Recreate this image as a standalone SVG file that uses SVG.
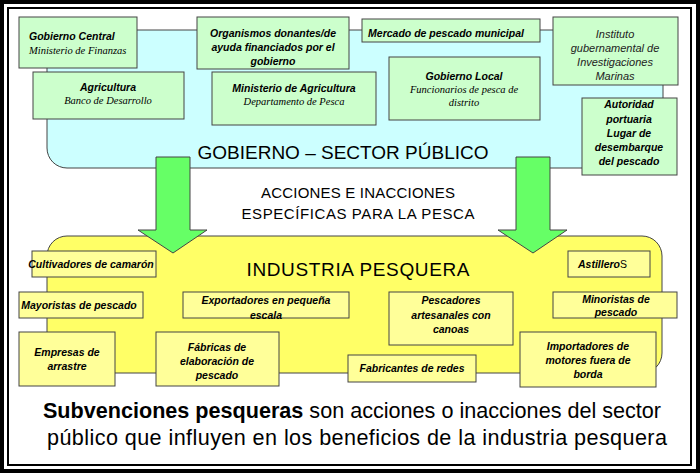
<svg xmlns="http://www.w3.org/2000/svg" width="700" height="474" viewBox="0 0 700 474">
<style>
.g{fill:#ccffcc;stroke:#444;stroke-width:1}
.y{fill:#ffff99;stroke:#444;stroke-width:1}
.t{font-family:"Liberation Sans",Arial,sans-serif;font-size:10.5px;font-weight:bold;font-style:italic;fill:#000;text-anchor:middle}
.s{font-family:"Liberation Serif","Times New Roman",serif;font-size:10.5px;font-style:italic;fill:#000;text-anchor:middle}
.n{font-family:"Liberation Sans",Arial,sans-serif;font-size:11px;font-style:italic;fill:#222;text-anchor:middle}
.h{font-family:"Liberation Sans",Arial,sans-serif;fill:#000;text-anchor:middle}
.arr{fill:#66ff66;stroke:#444;stroke-width:1}
</style>
<rect x="0" y="0" width="700" height="474" fill="#fff"/>
<rect x="2" y="2" width="696" height="469" fill="none" stroke="#000" stroke-width="4"/>
<rect x="8" y="8" width="683" height="457" fill="none" stroke="#000" stroke-width="2"/>

<g id="gobierno-sector">
<rect x="47" y="30" width="616" height="138" rx="20" fill="#ccffff" stroke="#444"/>
<text class="h" x="343" y="159" font-size="19" textLength="291">GOBIERNO – SECTOR PÚBLICO</text>
</g>
<g id="industria-pesquera">
<rect x="47" y="236" width="615" height="137" rx="20" fill="#ffff66" stroke="#444"/>
<text class="h" x="358" y="276" font-size="19" textLength="223">INDUSTRIA PESQUERA</text>
</g>

<g id="connectors">
<path class="arr" d="M156,157 H190 V230 H207 L173,253 L138,230 H156 Z"/>
<path class="arr" d="M516,157 H550 V230 H567 L533,253 L498,230 H516 Z"/>
</g>

<g id="acciones">
<text class="h" x="358" y="198" font-size="15" textLength="194">ACCIONES E INACCIONES</text>
<text class="h" x="358" y="219" font-size="15" textLength="233">ESPECÍFICAS PARA LA PESCA</text>
</g>

<g id="gobierno-central">
<rect class="g" x="19" y="17" width="118" height="51"/>
<text class="t" x="29" y="40" style="text-anchor:start">Gobierno Central</text>
<text class="s" x="29" y="54" style="text-anchor:start">Ministerio de Finanzas</text>
</g>
<g id="organismos">
<rect class="g" x="197" y="17" width="152" height="52"/>
<text class="t" x="273" y="37">Organismos donantes/de</text>
<text class="t" x="273" y="51">ayuda financiados por el</text>
<text class="t" x="273" y="65">gobierno</text>
</g>
<g id="mercado">
<rect class="g" x="362" y="19" width="178" height="23"/>
<text class="t" x="446" y="37">Mercado de pescado municipal</text>
</g>
<g id="instituto">
<rect class="g" x="553" y="17" width="125" height="68"/>
<text class="n" x="615" y="38">Instituto</text>
<text class="n" x="615" y="52">gubernamental de</text>
<text class="n" x="615" y="66">Investigaciones</text>
<text class="n" x="615" y="80">Marinas</text>
</g>
<g id="agricultura">
<rect class="g" x="33" y="72" width="151" height="47"/>
<text class="t" x="108" y="91">Agricultura</text>
<text class="s" x="108" y="104">Banco de Desarrollo</text>
</g>
<g id="ministerio-agricultura">
<rect class="g" x="212" y="72" width="164" height="53"/>
<text class="t" x="294" y="92">Ministerio de Agricultura</text>
<text class="s" x="294" y="105">Departamento de Pesca</text>
</g>
<g id="gobierno-local">
<rect class="g" x="389" y="57" width="151" height="63"/>
<text class="t" x="464" y="80">Gobierno Local</text>
<text class="s" x="464" y="93">Funcionarios de pesca de</text>
<text class="s" x="464" y="106">distrito</text>
</g>
<g id="autoridad">
<rect class="g" x="582" y="98" width="95" height="77"/>
<text class="t" x="629" y="108">Autoridad</text>
<text class="t" x="629" y="123">portuaria</text>
<text class="t" x="629" y="137">Lugar de</text>
<text class="t" x="629" y="151">desembarque</text>
<text class="t" x="629" y="165">del pescado</text>
</g>

<g id="cultivadores">
<rect class="y" x="32" y="251" width="124" height="26"/>
<text class="t" x="91" y="268">Cultivadores de camarón</text>
</g>
<g id="astilleros">
<rect class="y" x="568" y="251" width="82" height="26"/>
<text class="t" x="578" y="268" style="text-anchor:start">Astillero<tspan font-style="normal" font-weight="normal">S</tspan></text>
</g>
<g id="mayoristas">
<rect class="y" x="19" y="292" width="124" height="26"/>
<text class="t" x="79" y="309">Mayoristas de pescado</text>
</g>
<g id="exportadores">
<rect class="y" x="183" y="292" width="166" height="26"/>
<text class="t" x="266" y="304">Exportadores en pequeña</text>
<text class="t" x="266" y="319">escala</text>
</g>
<g id="pescadores">
<rect class="y" x="389" y="292" width="124" height="53"/>
<text class="t" x="451" y="304">Pescadores</text>
<text class="t" x="451" y="319">artesanales con</text>
<text class="t" x="451" y="333">canoas</text>
</g>
<g id="minoristas">
<rect class="y" x="553" y="292" width="124" height="26"/>
<text class="t" x="616" y="303">Minoristas de</text>
<text class="t" x="616" y="316">pescado</text>
</g>
<g id="empresas">
<rect class="y" x="19" y="332" width="96" height="54"/>
<text class="t" x="67" y="356">Empresas de</text>
<text class="t" x="67" y="370">arrastre</text>
</g>
<g id="fabricas">
<rect class="y" x="156" y="332" width="123" height="54"/>
<text class="t" x="217" y="351">Fábricas de</text>
<text class="t" x="217" y="365">elaboración de</text>
<text class="t" x="217" y="379">pescado</text>
</g>
<g id="fabricantes">
<rect class="y" x="348" y="355" width="128" height="27"/>
<text class="t" x="412" y="372">Fabricantes de redes</text>
</g>
<g id="importadores">
<rect class="y" x="520" y="332" width="136" height="55"/>
<text class="t" x="588" y="350">Importadores de</text>
<text class="t" x="588" y="364">motores fuera de</text>
<text class="t" x="588" y="378">borda</text>
</g>

<g id="definicion">
<text class="h" x="352" y="418" font-size="21.6"><tspan font-weight="bold">Subvenciones pesqueras</tspan> son acciones o inacciones del sector</text>
<text class="h" x="357" y="445" font-size="21.6" textLength="620">público que influyen en los beneficios de la industria pesquera</text>
</g>
</svg>
